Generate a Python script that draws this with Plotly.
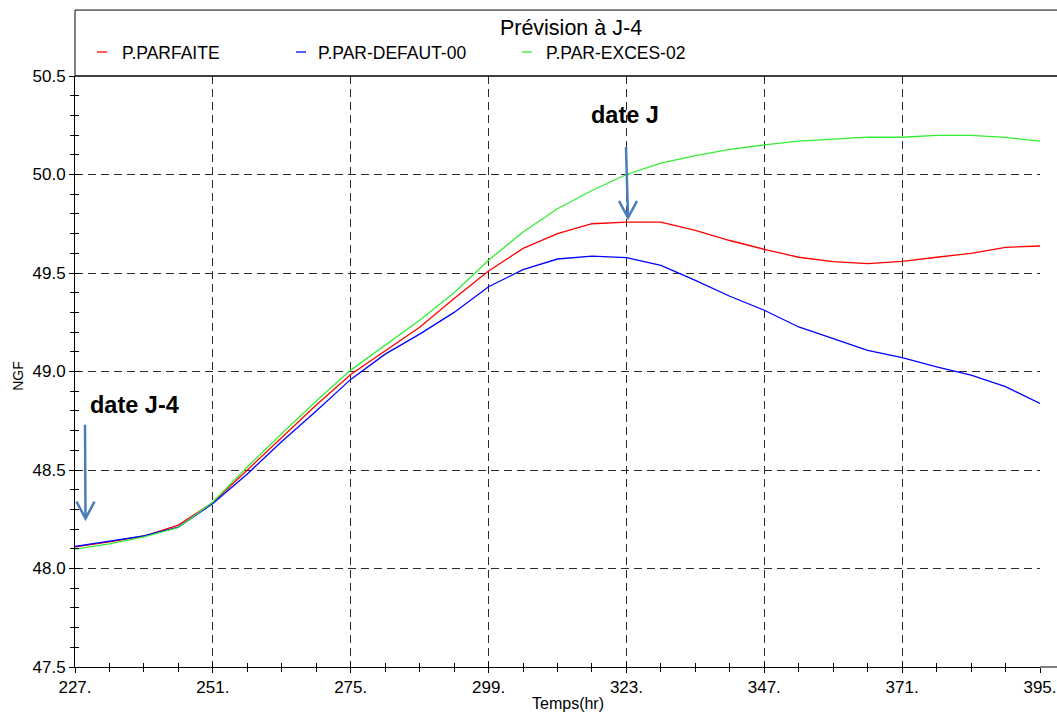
import plotly.graph_objects as go

# ---------------- data ----------------
hours = [227, 233, 239, 245, 251, 257, 263, 269, 275, 281, 287, 293, 299, 305, 311,
         317, 323, 329, 335, 341, 347, 353, 359, 365, 371, 377, 383, 389, 395]

parfaite = [48.11, 48.135, 48.165, 48.22, 48.335, 48.50, 48.67, 48.83, 48.985, 49.105,
            49.225, 49.37, 49.51, 49.625, 49.70, 49.75, 49.758, 49.758, 49.716, 49.665,
            49.62, 49.58, 49.558, 49.548, 49.559, 49.58, 49.60, 49.63, 49.637]

defaut00 = [48.112, 48.137, 48.165, 48.21, 48.33, 48.48, 48.645, 48.80, 48.96, 49.088,
            49.19, 49.30, 49.43, 49.517, 49.571, 49.586, 49.578, 49.539, 49.463, 49.382,
            49.311, 49.226, 49.167, 49.107, 49.07, 49.024, 48.982, 48.923, 48.838]

exces02 = [48.098, 48.125, 48.16, 48.208, 48.338, 48.515, 48.685, 48.85, 49.007, 49.133,
           49.26, 49.40, 49.565, 49.708, 49.826, 49.919, 50.0, 50.058, 50.096, 50.127,
           50.15, 50.169, 50.181, 50.19, 50.189, 50.199, 50.199, 50.188, 50.169]

series_names = ["P.PARFAITE", "P.PAR-DEFAUT-00", "P.PAR-EXCES-02"]
series_colors = ["#ff0000", "#0000ff", "#33ee33"]

x_ticks = [227, 251, 275, 299, 323, 347, 371, 395]
x_ticktext = ["227.", "251.", "275.", "299.", "323.", "347.", "371.", "395."]
y_ticks = [47.5, 48.0, 48.5, 49.0, 49.5, 50.0, 50.5]
y_ticktext = ["47.5", "48.0", "48.5", "49.0", "49.5", "50.0", "50.5"]

title_text = "Prévision à J-4"
x_title = "Temps(hr)"
y_title = "NGF"

# ---------------- layout geometry ----------------
W, H = 1057, 715
ML, MR, MT, MB = 75, 17, 76, 47.5
PW, PH = W - ML - MR, H - MT - MB
XR = [227, 395]
YR = [47.5, 50.5]
FONT = "Liberation Sans, Arial, Helvetica, sans-serif"


def px2x(px):
    return XR[0] + (px - ML) / PW * (XR[1] - XR[0])


def py2y(py):
    return YR[1] - (py - MT) / PH * (YR[1] - YR[0])


def px2p(px):
    return (px - ML) / PW


def py2p(py):
    return (H - MB - py) / PH


fig = go.Figure()
for name, vals, col in zip(series_names, [parfaite, defaut00, exces02], series_colors):
    fig.add_trace(go.Scatter(x=hours, y=vals, mode="lines", name=name,
                             line=dict(color=col, width=1.3), showlegend=False))

# invisible trace for overlay axes (inside ticks)
fig.add_trace(go.Scatter(x=[XR[0]], y=[YR[0]], mode="markers", marker=dict(opacity=0),
                         xaxis="x2", yaxis="y2", showlegend=False, hoverinfo="skip"))

grid = dict(showgrid=True, gridcolor="#2a2a2a", gridwidth=1, griddash="8px,5px")

fig.update_layout(
    width=W, height=H,
    margin=dict(l=ML, r=MR, t=MT, b=MB, pad=0, autoexpand=False),
    paper_bgcolor="white", plot_bgcolor="white",
    font=dict(family=FONT, size=17, color="black"),
    title=dict(text=title_text, x=571 / W, y=1 - 27 / H, xanchor="center", yanchor="middle",
               font=dict(family=FONT, size=21.5, color="black")),
    xaxis=dict(range=XR, tickvals=x_ticks, ticktext=x_ticktext, ticks="outside", ticklen=5,
               tickcolor="black", showline=True, linecolor="black", linewidth=1,
               zeroline=False, tickfont=dict(size=17), automargin=False,
               minor=dict(dtick=6, tick0=227, ticks="outside", ticklen=4, tickcolor="black",
                          showgrid=False),
               **grid),
    yaxis=dict(range=YR, tickvals=y_ticks, ticktext=y_ticktext, ticks="outside", ticklen=5,
               tickcolor="black", showline=True, linecolor="black", linewidth=1,
               zeroline=False, tickfont=dict(size=17), automargin=False,
               minor=dict(dtick=0.1, tick0=47.5, ticks="outside", ticklen=4, tickcolor="black",
                          showgrid=False),
               **grid),
    xaxis2=dict(range=XR, overlaying="x", anchor="y2", side="bottom", tickvals=x_ticks,
                showticklabels=False, ticks="inside", ticklen=5, tickcolor="black",
                showgrid=False, zeroline=False, showline=False, automargin=False,
                minor=dict(dtick=6, tick0=227, ticks="inside", ticklen=4, tickcolor="black",
                           showgrid=False)),
    yaxis2=dict(range=YR, overlaying="y", anchor="x2", side="left", tickvals=y_ticks,
                showticklabels=False, ticks="inside", ticklen=5, tickcolor="black",
                showgrid=False, zeroline=False, showline=False, automargin=False,
                minor=dict(dtick=0.1, tick0=47.5, ticks="inside", ticklen=4, tickcolor="black",
                           showgrid=False)),
)

shapes = []
# outer frame around title / legend band
shapes.append(dict(type="line", xref="paper", yref="paper", x0=0, x1=px2p(W + 5),
                   y0=py2p(10), y1=py2p(10), line=dict(color="black", width=1)))
shapes.append(dict(type="line", xref="paper", yref="paper", x0=0, x1=0,
                   y0=1, y1=py2p(10), line=dict(color="black", width=1)))
shapes.append(dict(type="line", xref="paper", yref="paper", x0=0, x1=px2p(W + 5),
                   y0=1, y1=1, line=dict(color="black", width=1.3)))
shapes.append(dict(type="line", xref="paper", yref="paper", x0=1, x1=px2p(W + 5),
                   y0=0, y1=0, line=dict(color="black", width=1)))

# legend (manual, short line samples)
legend_line_x = [97, 296, 522]
legend_text_x = [120, 316, 544]
legend_y = 53
annotations = []
for name, col, lx, tx in zip(series_names, series_colors, legend_line_x, legend_text_x):
    shapes.append(dict(type="line", xref="paper", yref="paper", x0=px2p(lx), x1=px2p(lx + 10),
                       y0=py2p(legend_y - 1), y1=py2p(legend_y - 1), line=dict(color=col, width=1.3)))
    annotations.append(dict(text=name, xref="paper", yref="paper", x=px2p(tx), y=py2p(legend_y),
                            xanchor="left", yanchor="middle", showarrow=False,
                            font=dict(family=FONT, size=17.5, color="black")))

# axis titles
annotations.append(dict(text=x_title, xref="paper", yref="paper", x=px2p(568), y=py2p(704),
                        xanchor="center", yanchor="middle", showarrow=False,
                        font=dict(family=FONT, size=16, color="black")))
annotations.append(dict(text=y_title, xref="paper", yref="paper", x=px2p(18), y=py2p(376),
                        xanchor="center", yanchor="middle", showarrow=False, textangle=-90,
                        font=dict(family=FONT, size=14, color="black")))

# callout texts
annotations.append(dict(text="<b>date J-4</b>", xref="x", yref="y", x=px2x(88), y=py2y(405),
                        xanchor="left", yanchor="middle", showarrow=False,
                        font=dict(family=FONT, size=23.5, color="black")))
annotations.append(dict(text="<b>date J</b>", xref="x", yref="y", x=px2x(625), y=py2y(115),
                        xanchor="center", yanchor="middle", showarrow=False,
                        font=dict(family=FONT, size=23.5, color="black")))

# arrows (open V heads)
arrow_col = "#4a7ebb"


def arrow_path(x_top, y_top, x_tip, y_tip, dx=9, dy=17):
    return (f"M {px2x(x_top)},{py2y(y_top)} L {px2x(x_tip)},{py2y(y_tip)} "
            f"M {px2x(x_tip - dx)},{py2y(y_tip - dy)} L {px2x(x_tip)},{py2y(y_tip)} "
            f"L {px2x(x_tip + dx)},{py2y(y_tip - dy)}")


shapes.append(dict(type="path", xref="x", yref="y", path=arrow_path(85, 425, 85.5, 519),
                   line=dict(color=arrow_col, width=2.5)))
shapes.append(dict(type="path", xref="x", yref="y", path=arrow_path(626, 147, 628, 218),
                   line=dict(color=arrow_col, width=2.5)))

fig.update_layout(shapes=shapes, annotations=annotations)

fig.write_html("out.html", config={"displayModeBar": False},
               post_script="document.body.style.margin='0px';"
                           "document.body.style.overflow='hidden';")
